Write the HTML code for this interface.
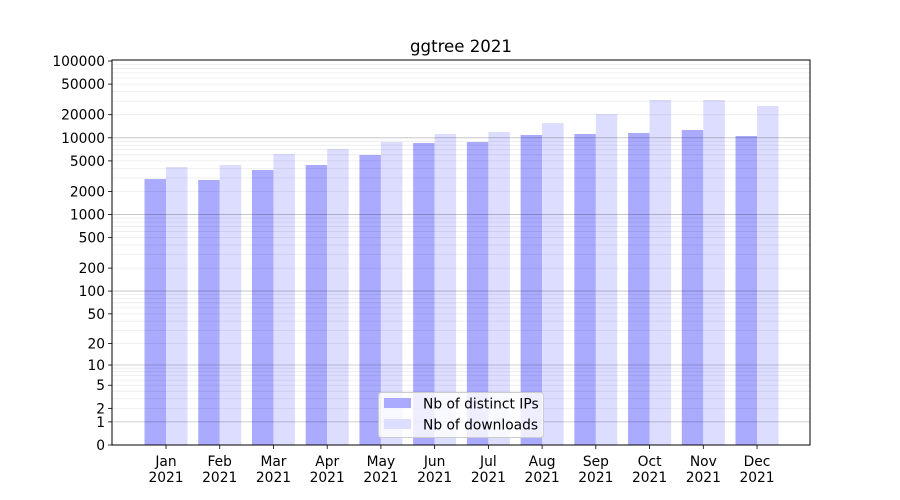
<!DOCTYPE html>
<html><head><meta charset="utf-8"><style>
body{margin:0;background:#fff}
svg{display:block;font-family:"DejaVu Sans","Liberation Sans",sans-serif}
</style></head><body>
<svg id="s" width="900" height="500" xmlns="http://www.w3.org/2000/svg"></svg>
<script>
const s=document.getElementById('s');
const L=112,R=810,T=60,B=445,K=76.8;
const y=v=>B-K*Math.log10(1+v);
let h='<rect width="900" height="500" fill="#fff"/>';
const months=['Jan','Feb','Mar','Apr','May','Jun','Jul','Aug','Sep','Oct','Nov','Dec'];
const ipT=[179,180,170,165,155,143,142,135,134,133,130,136];
const dlT=[167,165,154,149,142,134,132,123,114,100,100,106];
months.forEach((m,i)=>{const c=166+i*53.73;
h+=`<rect x="${c-21.5}" y="${ipT[i]}" width="21.5" height="${B-ipT[i]}" fill="#aaaaff"/>`;
h+=`<rect x="${c}" y="${dlT[i]}" width="21.5" height="${B-dlT[i]}" fill="#ddddff"/>`;
h+=`<line x1="${c}" y1="${B}" x2="${c}" y2="${B+4}" stroke="#000" stroke-width="0.8"/>`;
h+=`<text x="${c}" y="${B+21}" font-size="13.8" text-anchor="middle">${m}</text><text x="${c}" y="${B+37}" font-size="13.8" text-anchor="middle">2021</text>`;
});
for(let d=1;d<=10000;d*=10){for(let k=2;k<=9;k++){const yy=y(k*d);if(yy>T)h+=`<line x1="${L}" x2="${R}" y1="${yy}" y2="${yy}" stroke="#000" stroke-opacity="0.08" stroke-width="0.8"/>`;}}
for(const v of [1,10,100,1000,10000]){const yy=y(v);h+=`<line x1="${L}" x2="${R}" y1="${yy}" y2="${yy}" stroke="#000" stroke-opacity="0.25" stroke-width="0.8"/>`;}
const ticks=[0,1,2,5,10,20,50,100,200,500,1000,2000,5000,10000,20000,50000,100000];
ticks.forEach(v=>{const yy=Math.max(y(v),T+1);h+=`<line x1="${L-4}" x2="${L}" y1="${yy}" y2="${yy}" stroke="#000" stroke-width="0.8"/><text x="${L-7}" y="${yy+5}" font-size="13.8" text-anchor="end">${v}</text>`;});
h+=`<rect x="${L}" y="${T}" width="${R-L}" height="${B-T}" fill="none" stroke="#000" stroke-width="1"/>`;
h+=`<text x="461" y="52" font-size="16.6" text-anchor="middle">ggtree 2021</text>`;
h+=`<rect x="378.5" y="392.5" width="165" height="45" rx="3" fill="#fff" fill-opacity="0.8" stroke="#ccc"/>`;
h+=`<rect x="384" y="398" width="27" height="10" fill="#aaaaff"/><text x="423" y="408.5" font-size="13.8">Nb of distinct IPs</text>`;
h+=`<rect x="384" y="419" width="27" height="10" fill="#ddddff"/><text x="423" y="429.5" font-size="13.8">Nb of downloads</text>`;
s.innerHTML=h;
</script>
</body></html>
